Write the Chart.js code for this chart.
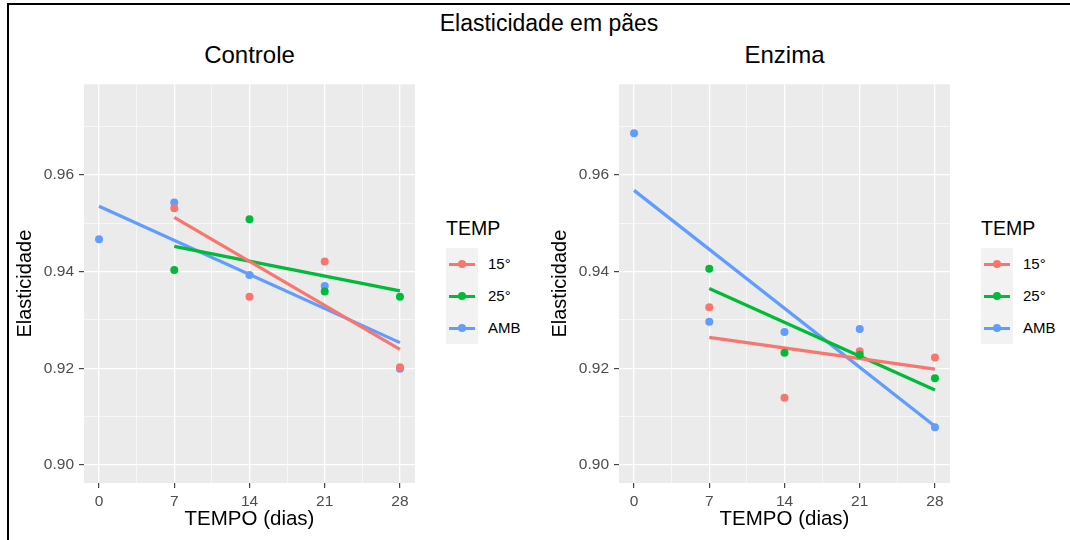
<!DOCTYPE html>
<html>
<head>
<meta charset="utf-8">
<title>Elasticidade em pães</title>
<script src="https://cdn.jsdelivr.net/npm/chart.js@4.4.1/dist/chart.umd.min.js"></script>
<style>
    html, body { margin: 0; padding: 0; background: #fff; }
    #fig {
        position: relative; width: 1070px; height: 540px; overflow: hidden;
        font-family: "Liberation Sans", Arial, Helvetica, sans-serif; color: #000;
    }
    .frame-top { position: absolute; left: 7px; top: 3px; width: 1063px; height: 2px; background: #000; }
    .frame-left { position: absolute; left: 7px; top: 3px; width: 2px; height: 537px; background: #000; }
    .title { position: absolute; top: 12px; left: 14px; width: 1070px; text-align: center; font-size: 23px; line-height: 23px; }
    .panel-title { position: absolute; top: 43px; width: 331px; text-align: center; font-size: 24px; line-height: 24px; }
    .cwrap { position: absolute; top: 70px; width: 430px; height: 470px; }
    .legend { position: absolute; top: 219px; width: 90px; }
    .legend .lt { font-size: 19.5px; line-height: 19px; height: 29px; }
    .legend .keys { position: absolute; left: 0; top: 29px; }
    .legend .row { position: relative; height: 32px; }
    .legend .box { position: absolute; left: 0; top: 0; width: 32px; height: 32px; background: #F2F2F2; }
    .legend .ln { position: absolute; left: 3px; top: 14.5px; width: 26px; height: 3px; }
    .legend .dot { position: absolute; left: 12px; top: 12px; width: 8px; height: 8px; border-radius: 50%; }
    .legend .lab { position: absolute; left: 42px; top: 8px; font-size: 15px; line-height: 16px; white-space: nowrap; }
</style>
</head>
<body>
<div id="fig">
    <div class="frame-top"></div>
    <div class="frame-left"></div>
    <div class="title">Elasticidade em pães</div>

    <div class="panel-title" style="left:84px">Controle</div>
    <div class="cwrap" style="left:0px"><canvas id="chartControle" width="430" height="470"></canvas></div>
    <div class="legend" id="legControle" style="left:446px"></div>

    <div class="panel-title" style="left:619px">Enzima</div>
    <div class="cwrap" style="left:535px"><canvas id="chartEnzima" width="430" height="470"></canvas></div>
    <div class="legend" id="legEnzima" style="left:981px"></div>
</div>

<script>
    // Dados
    const days = [0, 7, 14, 21, 28];
    const tempLabels = ['15°', '25°', 'AMB'];
    const tempColors = ['#F8766D', '#00BA38', '#619CFF'];

    const ctrl15  = [null, 0.9531, 0.9348, 0.9421, 0.9202];
    const ctrl25  = [null, 0.9403, 0.9508, 0.9359, 0.9348];
    const ctrlAmb = [0.9467, 0.9543, 0.9393, 0.9370, 0.9199];

    const enz15  = [null, 0.9326, 0.9139, 0.9235, 0.9222];
    const enz25  = [null, 0.9406, 0.9232, 0.9228, 0.9179];
    const enzAmb = [0.9686, 0.9296, 0.9275, 0.9281, 0.9078];

    // Retas de ajuste (extremos)
    const fitDaysTemp = [7, 28];
    const fitDaysAmb = [0, 28];
    const ctrlFit15  = [0.9512, 0.9239];
    const ctrlFit25  = [0.9452, 0.9360];
    const ctrlFitAmb = [0.9535, 0.9253];
    const enzFit15  = [0.9264, 0.9198];
    const enzFit25  = [0.9365, 0.9155];
    const enzFitAmb = [0.9568, 0.9080];

    // Eixos
    const xBreaks = [0, 7, 14, 21, 28];
    const xMinor = [3.5, 10.5, 17.5, 24.5];
    const yBreaks = [0.90, 0.92, 0.94, 0.96];
    const yMinor = [0.91, 0.93, 0.95, 0.97];

    const fontFamily = '"Liberation Sans", Arial, Helvetica, sans-serif';

    // Fundo cinza do painel (estilo ggplot)
    const panelBg = {
        id: 'panelBg',
        beforeDraw(chart) {
            const a = chart.chartArea;
            const ctx = chart.ctx;
            ctx.save();
            ctx.fillStyle = '#EBEBEB';
            ctx.fillRect(a.left, a.top, a.right - a.left, a.bottom - a.top);
            ctx.restore();
        }
    };

    function setTicks(majors, minors) {
        return function (scale) {
            const t = majors.map(v => ({ value: v }))
                .concat(minors.map(v => ({ value: v, minor: true })));
            t.sort((a, b) => a.value - b.value);
            scale.ticks = t;
        };
    }

    function pts(xs, ys) {
        return xs.map((x, i) => ({ x: x, y: ys[i] })).filter(p => p.y !== null);
    }

    function pointSet(vals, idx) {
        return {
            type: 'scatter',
            label: tempLabels[idx],
            data: pts(days, vals),
            showLine: false,
            pointRadius: 4,
            pointBorderWidth: 0,
            pointBackgroundColor: tempColors[idx],
            pointHoverRadius: 4
        };
    }

    function lineSet(xs, vals, idx) {
        return {
            type: 'line',
            label: tempLabels[idx] + ' ajuste',
            data: pts(xs, vals),
            showLine: true,
            borderColor: tempColors[idx],
            borderWidth: 3.2,
            pointRadius: 0,
            fill: false,
            tension: 0
        };
    }

    function gridOpts() {
        return {
            color: '#FFFFFF',
            lineWidth: ctx => (ctx.tick && ctx.tick.minor) ? 0.6 : 1.3,
            tickColor: ctx => (ctx.tick && ctx.tick.minor) ? 'rgba(0,0,0,0)' : '#333333',
            tickLength: 5,
            tickWidth: 1.1,
            drawTicks: true
        };
    }

    function makePanel(canvasId, s15, s25, sAmb, f15, f25, fAmb) {
        new Chart(document.getElementById(canvasId), {
            type: 'scatter',
            data: {
                datasets: [
                    pointSet(s25, 1),
                    pointSet(s15, 0),
                    pointSet(sAmb, 2),
                    lineSet(fitDaysTemp, f15, 0),
                    lineSet(fitDaysTemp, f25, 1),
                    lineSet(fitDaysAmb, fAmb, 2)
                ]
            },
            options: {
                responsive: false,
                animation: false,
                devicePixelRatio: 1,
                layout: { padding: { top: 9, right: 15, left: 0, bottom: 0 } },
                plugins: {
                    legend: { display: false },
                    tooltip: { enabled: false }
                },
                scales: {
                    x: {
                        type: 'linear',
                        min: -1.4,
                        max: 29.4,
                        afterBuildTicks: setTicks(xBreaks, xMinor),
                        afterFit: s => { s.height = 57; },
                        grid: gridOpts(),
                        border: { display: false },
                        ticks: {
                            autoSkip: false,
                            maxRotation: 0,
                            padding: 4,
                            color: '#4D4D4D',
                            font: { family: fontFamily, size: 15.5 },
                            callback: (v, i, t) => t[i].minor ? '' : String(v)
                        },
                        title: {
                            display: true,
                            text: 'TEMPO (dias)',
                            color: '#000',
                            font: { family: fontFamily, size: 20.5 },
                            padding: { top: 0, bottom: 8 }
                        }
                    },
                    y: {
                        type: 'linear',
                        min: 0.89625,
                        max: 0.97875,
                        afterBuildTicks: setTicks(yBreaks, yMinor),
                        afterFit: s => { s.width = 84; },
                        grid: gridOpts(),
                        border: { display: false },
                        ticks: {
                            autoSkip: false,
                            padding: 5,
                            color: '#4D4D4D',
                            font: { family: fontFamily, size: 15.5 },
                            callback: (v, i, t) => t[i].minor ? '' : Number(v).toFixed(2)
                        },
                        title: {
                            display: true,
                            text: 'Elasticidade',
                            color: '#000',
                            font: { family: fontFamily, size: 20 },
                            padding: { top: 13, bottom: 0 }
                        }
                    }
                }
            },
            plugins: [panelBg]
        });
    }

    function makeLegend(id) {
        const el = document.getElementById(id);
        let html = '<div class="lt">TEMP</div><div class="keys">';
        tempLabels.forEach((lab, i) => {
            html += '<div class="row"><div class="box"></div>' +
                '<div class="ln" style="background:' + tempColors[i] + '"></div>' +
                '<div class="dot" style="background:' + tempColors[i] + '"></div>' +
                '<div class="lab">' + lab + '</div></div>';
        });
        html += '</div>';
        el.innerHTML = html;
    }

    makePanel('chartControle', ctrl15, ctrl25, ctrlAmb, ctrlFit15, ctrlFit25, ctrlFitAmb);
    makePanel('chartEnzima', enz15, enz25, enzAmb, enzFit15, enzFit25, enzFitAmb);
    makeLegend('legControle');
    makeLegend('legEnzima');
</script>
</body>
</html>
